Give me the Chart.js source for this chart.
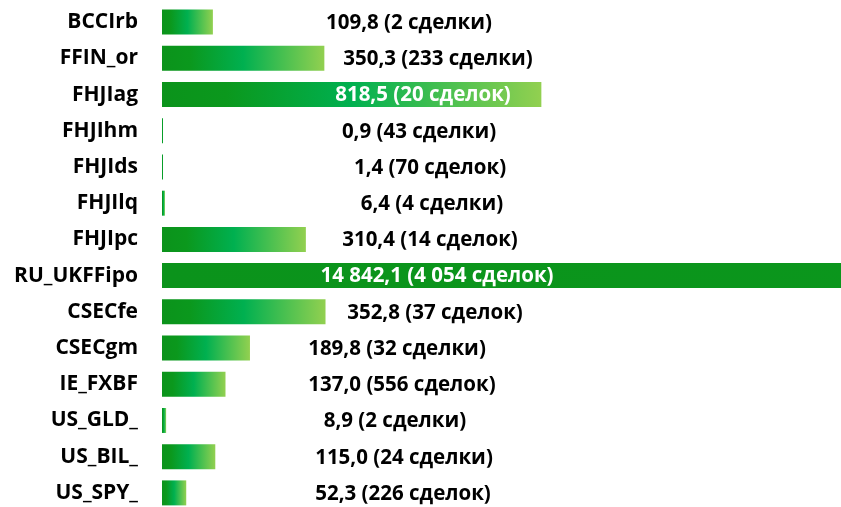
<!DOCTYPE html>
<html>
<head>
<meta charset="utf-8">
<script src="https://cdn.jsdelivr.net/npm/chart.js@4.4.1/dist/chart.umd.min.js"></script>
<style>
  html, body { margin: 0; padding: 0; background: #fff; overflow: hidden; }
  #wrap { width: 841px; height: 511px; position: relative; }
</style>
</head>
<body>
<div id="wrap"><canvas id="chartBars"></canvas></div>
<script>
const tickers = ['BCCIrb', 'FFIN_or', 'FHJIag', 'FHJIhm', 'FHJIds', 'FHJIlq', 'FHJIpc',
    'RU_UKFFipo', 'CSECfe', 'CSECgm', 'IE_FXBF', 'US_GLD_', 'US_BIL_', 'US_SPY_'];
const profit = [109.8, 350.3, 818.5, 0.9, 1.4, 6.4, 310.4, 14842.1, 352.8, 189.8, 137.0, 8.9, 115.0, 52.3];
const deals = [2, 233, 20, 43, 70, 4, 14, 4054, 37, 32, 556, 2, 24, 226];
const dealWord = ['сделки', 'сделки', 'сделок', 'сделки', 'сделок', 'сделки', 'сделок',
    'сделок', 'сделок', 'сделки', 'сделок', 'сделки', 'сделки', 'сделок'];

// where each text label sits (centre, px) - labels were placed by hand in the original
const labelCenter = [409, 438, 423, 419, 430, 432, 430, 437, 435, 397, 402, 395, 404, 403];

const FONT = '"Open Sans", sans-serif';

function fmtNum(v, dec) {
    let s = v.toFixed(dec);
    let parts = s.split('.');
    parts[0] = parts[0].replace(/\B(?=(\d{3})+(?!\d))/g, ' ');
    return parts.join(',');
}

function barGradient(context) {
    const chart = context.chart;
    if (!chart.chartArea) return '#0b961d';
    const xs = chart.scales.x;
    const x0 = xs.getPixelForValue(0);
    const x1 = Math.max(xs.getPixelForValue(context.raw), x0 + 2);
    const g = chart.ctx.createLinearGradient(x0, 0, x1, 0);
    g.addColorStop(0, '#0b931b');
    g.addColorStop(0.17, '#0b981d');
    g.addColorStop(0.5, '#00b050');
    g.addColorStop(1, '#92d050');
    return g;
}

const valueLabels = {
    id: 'valueLabels',
    afterDatasetsDraw(chart) {
        const ctx = chart.ctx;
        const meta = chart.getDatasetMeta(0);
        ctx.save();
        ctx.font = 'bold 20.5px ' + FONT;
        ctx.textAlign = 'center';
        ctx.textBaseline = 'middle';
        meta.data.forEach((bar, i) => {
            const txt = fmtNum(profit[i], 1) + ' (' + fmtNum(deals[i], 0) + ' ' + dealWord[i] + ')';
            const cx = labelCenter[i];
            const w = ctx.measureText(txt).width;
            ctx.fillStyle = (bar.x > cx + w / 2) ? '#ffffff' : '#000000';
            ctx.fillText(txt, cx, bar.y + 1);
        });
        ctx.restore();
    }
};

let ctxBars = document.querySelector('#chartBars').getContext('2d');
let chartBars = new Chart(ctxBars, {
    type: 'bar',
    data: {
        labels: tickers,
        datasets: [{
            data: profit,
            backgroundColor: barGradient,
            borderWidth: 0,
            categoryPercentage: 1,
            barPercentage: 0.69,
            minBarLength: 1
        }]
    },
    options: {
        indexAxis: 'y',
        responsive: true,
        maintainAspectRatio: false,
        animation: false,
        events: [],
        plugins: {
            legend: { display: false },
            tooltip: { enabled: false }
        },
        layout: {
            padding: { top: 4, bottom: 0, left: 0, right: 0 }
        },
        scales: {
            x: {
                display: false,
                min: 0,
                max: 1465
            },
            y: {
                grid: { display: false, drawTicks: false },
                border: { display: false },
                afterFit(scale) {
                    scale.width = 162;
                    scale.paddingTop = 0;
                    scale.paddingBottom = 0;
                },
                ticks: {
                    padding: 24,
                    color: '#000',
                    font: { family: FONT, size: 21, weight: 'bold' }
                }
            }
        }
    },
    plugins: [valueLabels]
});
</script>
</body>
</html>
